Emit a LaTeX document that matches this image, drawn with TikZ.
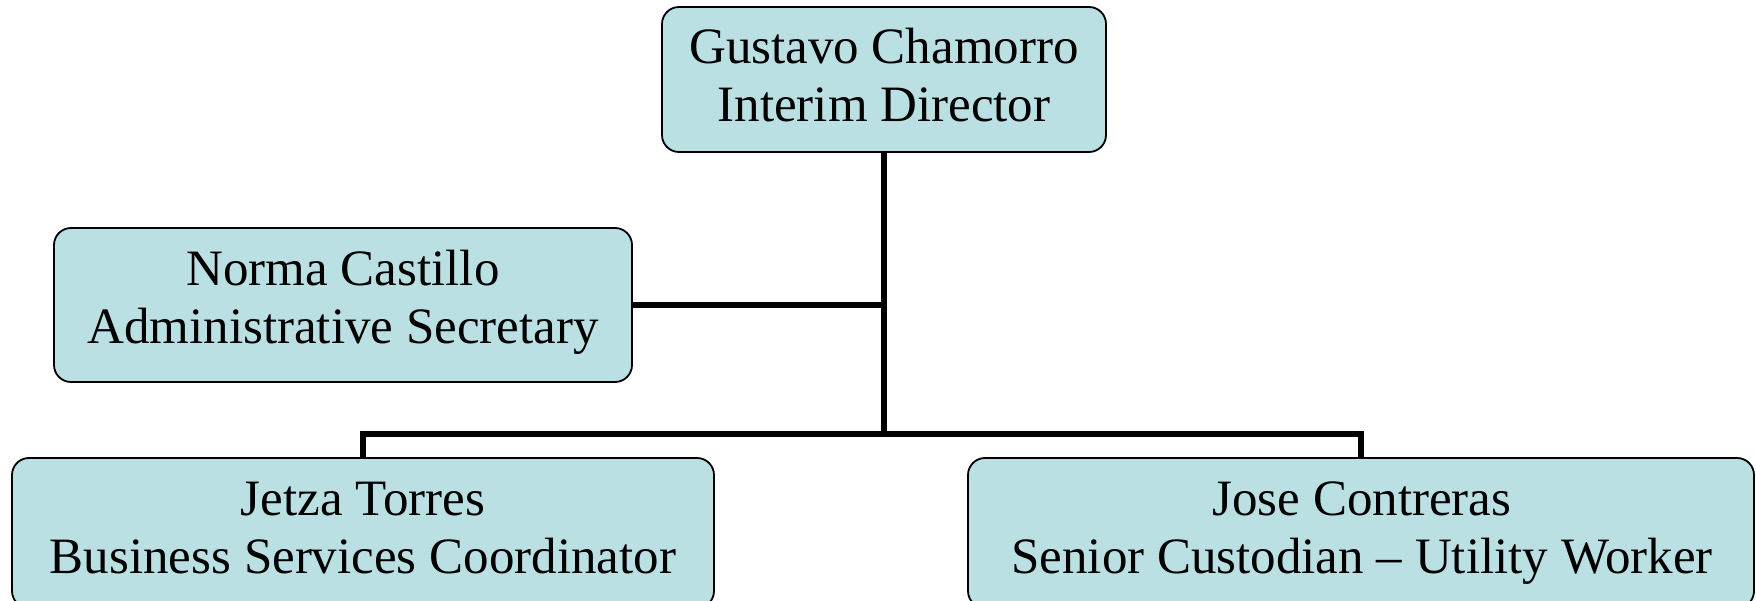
\documentclass[tikz,border=0pt]{standalone}
\usepackage{fontspec}
\setmainfont{Liberation Serif}
\definecolor{boxfill}{HTML}{BAE0E3}
\begin{document}
\begin{tikzpicture}[x=1pt,y=-1pt,
  box/.style={draw=black, line width=1.8pt, fill=boxfill, rounded corners=17pt,
    inner sep=0pt},
  label/.style={align=center, inner sep=0pt, font=\fontsize{51}{58}\selectfont},
  link/.style={draw=black, line width=5.5pt}]
  \useasboundingbox (0,0) rectangle (1756,601);

  % boxes
  \node[box, minimum width=444pt, minimum height=145pt] (gc) at (884,79.5) {};
  \node[box, minimum width=578pt, minimum height=154pt] (nc) at (343,305) {};
  \node[box, minimum width=702pt, minimum height=150pt] (jt) at (363,533) {};
  \node[box, minimum width=786pt, minimum height=150pt] (jc) at (1361,533) {};

  % titles
  \node[label] (gct) at (884,81) {Gustavo Chamorro\strut\\Interim Director\strut};
  \node[label] (nct) at (343,303) {Norma Castillo\strut\\Administrative Secretary\strut};
  \node[label] (jtt) at (363,532.5) {Jetza Torres\strut\\Business Services Coordinator\strut};
  \node[label] (jct) at (1362,532.5) {Jose Contreras\strut\\Senior Custodian -- Utility Worker\strut};

  % reporting lines
  \coordinate (bus) at (884,434);
  \draw[link] (gc.south) -- (bus);
  \draw[link] (nc.east) -- (nc.east -| bus);
  \draw[link] (jt.north) |- (bus) -| (jc.north);
\end{tikzpicture}
\end{document}
